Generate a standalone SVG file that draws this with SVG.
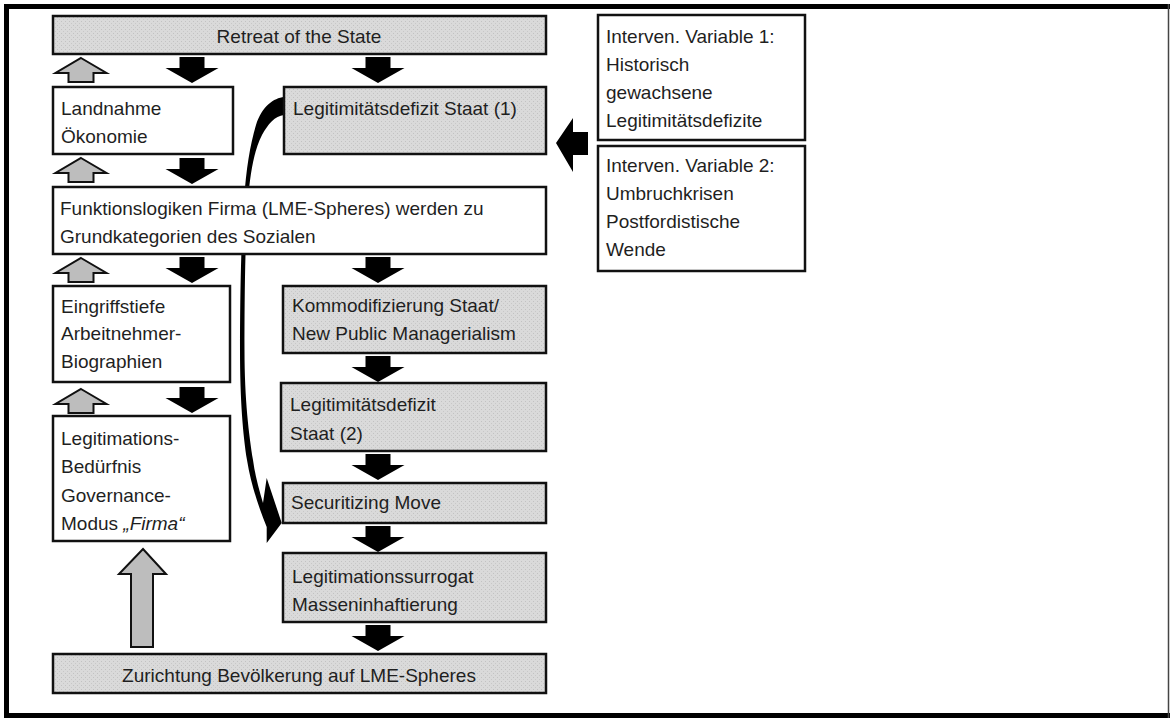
<svg xmlns="http://www.w3.org/2000/svg" width="1170" height="720" viewBox="0 0 1170 720">
<defs>
<pattern id="dots" width="4" height="4" patternUnits="userSpaceOnUse">
<rect width="4" height="4" fill="#dadada"/>
<rect x="1" y="1" width="1" height="1" fill="#c2c2c2"/>
<rect x="3" y="3" width="1" height="1" fill="#c8c8c8"/>
</pattern>
<path id="down" d="M-12.5,0 H12.5 V11 H26.5 L0,26 L-26.5,11 H-12.5 Z"/>
<path id="up" d="M0,0 L25.5,15 H12.5 V24 H-12.5 V15 H-25.5 Z"/>
</defs>
<style>
.box{stroke:#111;stroke-width:2.5}
.white{fill:#fff}
.gray{fill:url(#dots)}
.t{font-family:"Liberation Sans",Arial,sans-serif;font-size:19px;fill:#1f1f1f}
.c{text-anchor:middle}
.blk{fill:#000}
.garrow{fill:#bdbdbd;stroke:#111;stroke-width:2}
</style>
<rect width="1170" height="720" fill="#fff"/>
<g id="frame">
<line x1="4" y1="6.5" x2="1170" y2="6.5" stroke="#000" stroke-width="5"/>
<line x1="6.5" y1="4" x2="6.5" y2="718" stroke="#000" stroke-width="5"/>
<line x1="4" y1="715.5" x2="1170" y2="715.5" stroke="#000" stroke-width="5"/>
<line x1="1168.5" y1="4" x2="1168.5" y2="718" stroke="#444" stroke-width="1.5"/>
</g>

<g id="connectors">
<use href="#up" class="garrow" x="81" y="58"/>
<use href="#down" class="blk" x="192" y="57"/>
<use href="#down" class="blk" x="378" y="57"/>
<use href="#up" class="garrow" x="81" y="158"/>
<use href="#down" class="blk" x="192" y="158"/>
<use href="#up" class="garrow" x="81" y="258"/>
<use href="#down" class="blk" x="192" y="257"/>
<use href="#down" class="blk" x="378" y="257"/>
<use href="#down" class="blk" x="378" y="356"/>
<use href="#up" class="garrow" x="81" y="389"/>
<use href="#down" class="blk" x="192" y="387"/>
<use href="#down" class="blk" x="378" y="454"/>
<use href="#down" class="blk" x="378" y="526"/>
<use href="#down" class="blk" x="378" y="625"/>
<path class="garrow" d="M143,549 L166,574 H153 V647 H131 V574 H119 Z"/>
<path class="blk" d="M556,143 L573,118 V132 H588 V155 H573 V172 Z"/>
<path class="blk" d="M284,97 C274,98 262,106 256,125 C250,145 246,170 244,200 C241,240 240,300 240,350 C240,400 243,435 247,460 C251,485 259,508 266.7,527 L266.7,543 L281.7,523 L266.7,478 L263,503 C259,490 255,475 253,460 C249,435 244.5,400 244.5,350 C244.5,300 245,240 248,200 C250,175 254,150 262,135 C268,124 275,116 284,115 Z"/>
</g>

<g id="retreat">
<rect class="box gray" x="53" y="16" width="493" height="38"/>
<text class="t c" x="299" y="43">Retreat of the State</text>
</g>
<g id="landnahme">
<rect class="box white" x="53" y="87" width="180" height="67"/>
<text class="t" x="61" y="115">Landnahme</text>
<text class="t" x="61" y="143">Ökonomie</text>
</g>
<g id="legit1">
<rect class="box gray" x="284" y="87" width="262" height="67"/>
<text class="t" x="293" y="115">Legitimitätsdefizit Staat (1)</text>
</g>
<g id="interven1">
<rect class="box white" x="598" y="15" width="207" height="125"/>
<text class="t" x="606" y="43">Interven. Variable 1:</text>
<text class="t" x="606" y="71">Historisch</text>
<text class="t" x="606" y="99">gewachsene</text>
<text class="t" x="606" y="127">Legitimitätsdefizite</text>
</g>
<g id="interven2">
<rect class="box white" x="598" y="146" width="207" height="125"/>
<text class="t" x="606" y="172">Interven. Variable 2:</text>
<text class="t" x="606" y="200">Umbruchkrisen</text>
<text class="t" x="606" y="228">Postfordistische</text>
<text class="t" x="606" y="256">Wende</text>
</g>
<g id="funktionslogiken">
<rect class="box white" x="53" y="187" width="493" height="67"/>
<text class="t" x="60" y="215">Funktionslogiken Firma (LME-Spheres) werden zu</text>
<text class="t" x="60" y="243">Grundkategorien des Sozialen</text>
</g>
<g id="eingriffstiefe">
<rect class="box white" x="53" y="286" width="177" height="96"/>
<text class="t" x="61" y="313">Eingriffstiefe</text>
<text class="t" x="61" y="340">Arbeitnehmer-</text>
<text class="t" x="61" y="368">Biographien</text>
</g>
<g id="kommodifizierung">
<rect class="box gray" x="283" y="286" width="263" height="67"/>
<text class="t" x="292" y="312">Kommodifizierung Staat/</text>
<text class="t" x="292" y="340">New Public Managerialism</text>
</g>
<g id="legit2">
<rect class="box gray" x="281" y="383" width="265" height="68"/>
<text class="t" x="290" y="411">Legitimitätsdefizit</text>
<text class="t" x="290" y="440">Staat (2)</text>
</g>
<g id="legitimations">
<rect class="box white" x="53" y="416" width="177" height="125"/>
<text class="t" x="61" y="445">Legitimations-</text>
<text class="t" x="61" y="473">Bedürfnis</text>
<text class="t" x="61" y="502">Governance-</text>
<text class="t" x="61" y="530">Modus <tspan font-style="italic">„Firma“</tspan></text>
</g>
<g id="securitizing">
<rect class="box gray" x="283" y="483" width="263" height="40"/>
<text class="t" x="291" y="509">Securitizing Move</text>
</g>
<g id="surrogat">
<rect class="box gray" x="283" y="553" width="263" height="69"/>
<text class="t" x="292" y="583">Legitimationssurrogat</text>
<text class="t" x="292" y="611">Masseninhaftierung</text>
</g>
<g id="zurichtung">
<rect class="box gray" x="53" y="654" width="493" height="39"/>
<text class="t c" x="299" y="682">Zurichtung Bevölkerung auf LME-Spheres</text>
</g>
</svg>
